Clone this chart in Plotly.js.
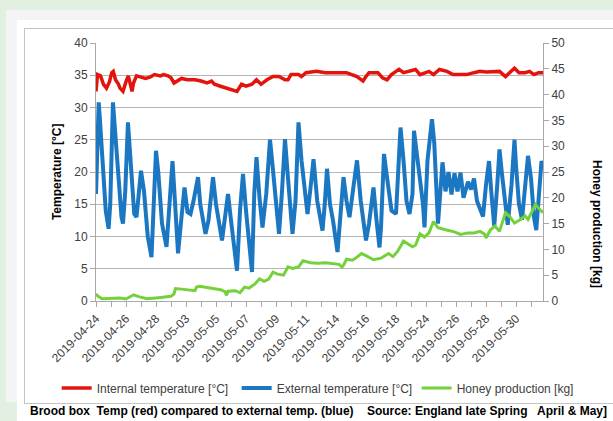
<!DOCTYPE html>
<html>
<head>
<meta charset="utf-8">
<script src="https://cdn.plot.ly/plotly-3.0.1.min.js"></script>
<style>
  html, body { margin:0; padding:0; }
  body { width:613px; height:421px; background:#e1f0e1; position:relative; overflow:hidden; }
  #gray { position:absolute; left:6px; top:10px; width:607px; height:392px; background:#f4f4f4; }
  #white { position:absolute; left:17px; top:20px; width:596px; height:401px; background:#ffffff; }
  #frame { position:absolute; left:24px; top:28px; width:588px; height:374px; border:1px solid #c4c4c4; }
  #chart { position:absolute; left:0; top:0; width:613px; height:421px; }
  #caption { position:absolute; left:30px; top:404px; display:inline-block; white-space:pre;
             font-family:'Liberation Sans', Arial, sans-serif; font-weight:bold; font-size:12px;
             line-height:14px; color:#000; transform-origin:0 50%; }
</style>
</head>
<body>
<div id="gray"></div>
<div id="white"></div>
<div id="frame"></div>
<div id="chart"></div>
<div id="caption"></div>
<script>
// ---- data (x = day of record) ----
const dateLabels = ['2019-04-24','2019-04-26','2019-04-28','2019-05-03','2019-05-05','2019-05-07','2019-05-09','2019-05-11','2019-05-14','2019-05-16','2019-05-18','2019-05-24','2019-05-26','2019-05-28','2019-05-30'];
const labelDay = [0,2,4,6,8,10,12,14,16,18,20,22,24,26,28];

const intDay = [0,0.1,0.3,0.5,0.7,0.9,1.05,1.15,1.3,1.5,1.6,1.8,2.0,2.15,2.3,2.4,2.5,2.7,3.0,3.3,3.6,3.9,4.3,4.5,4.8,5.0,5.2,5.4,5.7,6.1,6.6,7.0,7.4,7.7,7.9,8.3,8.7,9.0,9.4,9.7,10.0,10.4,10.7,11.0,11.4,11.8,12.2,12.6,12.8,13.0,13.5,13.7,14.0,14.7,15.3,16.0,16.7,17.4,17.7,17.8,18.0,18.2,18.8,19.1,19.4,19.7,20.0,20.2,20.5,20.9,21.3,21.6,21.9,22.2,22.5,22.9,23.4,23.8,24.3,24.7,25.2,25.6,26.0,26.5,26.9,27.3,27.6,27.9,28.2,28.6,28.9,29.2,29.5,29.8];
const intTemp = [32.5,35.1,34.9,33.6,33.0,34.0,35.4,35.6,34.3,33.6,33.0,32.5,34.0,34.9,33.5,32.5,33.8,34.9,34.7,34.5,34.7,35.1,34.9,35.1,34.9,34.6,33.8,34.1,34.5,34.3,34.3,34.1,33.8,34.1,33.6,33.3,33.0,32.8,32.5,33.6,33.3,33.6,34.3,33.6,34.3,34.8,34.8,34.3,34.3,35.1,35.1,34.8,35.4,35.6,35.4,35.4,35.4,34.8,34.3,34.1,34.8,35.4,35.4,34.6,34.3,35.1,35.6,35.9,35.4,35.6,35.9,35.1,35.4,35.6,35.1,35.9,35.6,35.1,35.1,35.1,35.4,35.6,35.5,35.6,35.6,34.8,35.4,36.1,35.4,35.4,35.6,35.1,35.4,35.4];

const extDay = [0,0.05,0.18,0.25,0.45,0.65,0.84,0.95,1.13,1.25,1.5,1.7,1.8,1.95,2.13,2.3,2.55,2.7,2.85,3.0,3.2,3.45,3.7,3.85,4.0,4.15,4.4,4.7,4.85,5.1,5.3,5.47,5.7,5.9,6.1,6.3,6.5,6.8,6.95,7.3,7.5,7.8,8.0,8.4,8.6,8.8,9.0,9.4,9.6,9.8,10.0,10.4,10.55,10.7,10.9,11.1,11.35,11.6,11.75,12.0,12.2,12.4,12.6,12.8,13.1,13.3,13.5,13.7,13.95,14.1,14.3,14.5,14.75,15.1,15.25,15.4,15.6,15.8,16.1,16.3,16.5,16.7,16.9,17.1,17.4,17.65,18.0,18.2,18.4,18.5,18.7,18.9,19.0,19.2,19.4,19.7,20.0,20.15,20.3,20.5,20.7,20.9,21.1,21.2,21.45,21.8,21.9,22.1,22.4,22.55,22.8,23.1,23.3,23.5,23.7,23.9,24.1,24.3,24.5,24.8,25.0,25.2,25.4,25.6,25.8,26.0,26.2,26.35,26.55,26.75,26.9,27.05,27.3,27.45,27.7,27.9,28.0,28.2,28.4,28.6,28.8,29.0,29.2,29.35,29.5,29.7,29.8];
const extTemp = [16.6,20,30.8,28.5,21.7,14,11.2,15,30.8,27,18,13,12,17,27.7,22,13.5,13,16,20.2,17,10,6.8,14,23.3,20,12,8.4,14,21.7,14,7.4,13,17.6,13.8,13.5,15.5,19.2,15,10.4,12.5,19.2,15,9.4,13,16.6,12.5,4.7,14,19.7,14,4.5,16.6,22.3,16,11.4,16.6,25,21.5,14.5,10.4,17,25.1,19,10.4,15.5,27.7,21.8,16.6,13.5,17.5,22,15.5,10.9,15,20.5,15,12.5,7.6,14,19.2,15.5,13,16.6,21.8,15.5,9.4,12,16.6,17.6,12.5,8.3,11.4,22.8,19.2,14,13.5,20,26.9,21.8,15.5,13.5,16.6,26.4,21.8,15,11.4,21.8,28.2,24.5,12,21.5,17,20,16.5,19.8,17,19.9,16,18.5,17.3,19,15.5,14.2,13.1,18,21.7,17,11.6,18,23.5,20,14,11.8,18,25,21,15,12.6,17,22.5,19,13,11,15,21.7,21];

const honeyDay = [0,0.1,0.4,1.0,1.6,2.0,2.5,2.9,3.4,4.0,4.6,5.0,5.2,5.3,5.7,6.2,6.6,6.7,6.9,7.4,7.8,8.3,8.6,8.7,8.8,9.3,9.6,9.9,10.2,10.6,10.9,11.2,11.5,11.8,12.1,12.5,12.8,13.1,13.5,13.8,14.3,14.8,15.3,15.8,16.2,16.4,16.5,16.7,17.1,17.4,17.7,18.0,18.5,19.0,19.5,19.8,20.1,20.5,20.8,21.1,21.3,21.6,21.9,22.2,22.5,22.8,23.3,23.9,24.3,24.8,25.2,25.6,25.9,26.0,26.3,26.6,26.9,27.2,27.3,27.6,27.9,28.3,28.6,28.8,29.3,29.5,29.8];
const honeyKg = [1.4,1.0,0.45,0.5,0.6,0.4,1.2,0.8,0.45,0.6,0.8,0.9,1.4,2.4,2.3,2.1,2.0,2.7,2.85,2.6,2.4,2.2,1.8,1.1,1.9,2.0,1.6,2.7,2.5,3.3,4.3,3.8,4.2,5.6,5.2,5.0,6.6,6.3,6.6,7.8,7.4,7.3,7.4,7.3,7.1,6.6,6.9,8.1,7.9,8.5,9.2,8.8,8.0,8.3,9.2,8.6,9.6,11.6,11.0,10.5,10.8,13.0,12.4,13.2,15.4,14.2,13.8,13.4,12.9,13.2,13.2,13.5,13.0,12.2,13.8,14.5,13.5,16.2,17.1,16.3,15.1,15.8,16.5,15.8,18.7,18.0,17.1];

const seriesNames = ['Internal temperature [°C]','External temperature [°C]','Honey production [kg]'];
const captionText = 'Brood box  Temp (red) compared to external temp. (blue)    Source: England late Spring   April & May]';

// ---- chart ----
const tickFont = {family:'Liberation Sans, Arial, sans-serif', size:12, color:'#404040'};
const axisGray = '#a9a9a9';

const traces = [
  {x:intDay, y:intTemp, name:seriesNames[0], type:'scatter', mode:'lines',
   line:{color:'#e3140c', width:3.5}, yaxis:'y'},
  {x:extDay, y:extTemp, name:seriesNames[1], type:'scatter', mode:'lines',
   line:{color:'#1c77c3', width:4}, yaxis:'y'},
  {x:honeyDay, y:honeyKg, name:seriesNames[2], type:'scatter', mode:'lines',
   line:{color:'#74d13c', width:3}, yaxis:'y2'}
];

const layout = {
  width:613, height:421,
  margin:{l:96, r:70, t:43, b:120},
  paper_bgcolor:'rgba(0,0,0,0)',
  plot_bgcolor:'rgba(0,0,0,0)',
  showlegend:true,
  xaxis:{
    range:[0,29.8], tickmode:'array', tickvals:labelDay, ticktext:dateLabels,
    tickangle:-45, tickfont:tickFont, ticks:'outside', ticklen:5, tickcolor:axisGray,
    showline:true, linecolor:axisGray, linewidth:1, showgrid:false, zeroline:false,
    minor:{tickmode:'linear', tick0:0, dtick:1, ticks:'outside', ticklen:5, tickcolor:axisGray, showgrid:false}
  },
  yaxis:{
    range:[0,40], dtick:5, tickfont:tickFont, ticks:'outside', ticklen:5, tickcolor:axisGray,
    showline:true, linecolor:axisGray, showgrid:true, gridcolor:'#b5b5b5', gridwidth:1, zeroline:false
  },
  yaxis2:{
    range:[0,50], dtick:5, overlaying:'y', side:'right', tickfont:tickFont, ticks:'outside', ticklen:5,
    tickcolor:axisGray, showline:true, linecolor:axisGray, showgrid:false, zeroline:false
  },
  legend:{orientation:'h', x:-0.088, xanchor:'left', y:-0.337, yanchor:'middle',
    font:{family:'Liberation Sans, Arial, sans-serif', size:12, color:'#404040'},
    bgcolor:'rgba(0,0,0,0)', itemwidth:30, entrywidth:135, entrywidthmode:'pixels'},
  annotations:[
    {text:'<b>Temperature [°C]</b>', xref:'paper', yref:'paper', x:-0.087, y:0.5, textangle:-90,
     showarrow:false, xanchor:'center', yanchor:'middle',
     font:{family:'Liberation Sans, Arial, sans-serif', size:12, color:'#000'}},
    {text:'<b>Honey production [kg]</b>', xref:'paper', yref:'paper', x:1.121, y:0.298, textangle:90,
     showarrow:false, xanchor:'center', yanchor:'middle',
     font:{family:'Liberation Sans, Arial, sans-serif', size:12, color:'#000'}}
  ]
};

Plotly.newPlot('chart', traces, layout, {staticPlot:true, displayModeBar:false});

const cap = document.getElementById('caption');
cap.textContent = captionText;
const w = cap.getBoundingClientRect().width;
cap.style.transform = 'scaleX(' + (577 / w) + ')';
</script>
</body>
</html>
